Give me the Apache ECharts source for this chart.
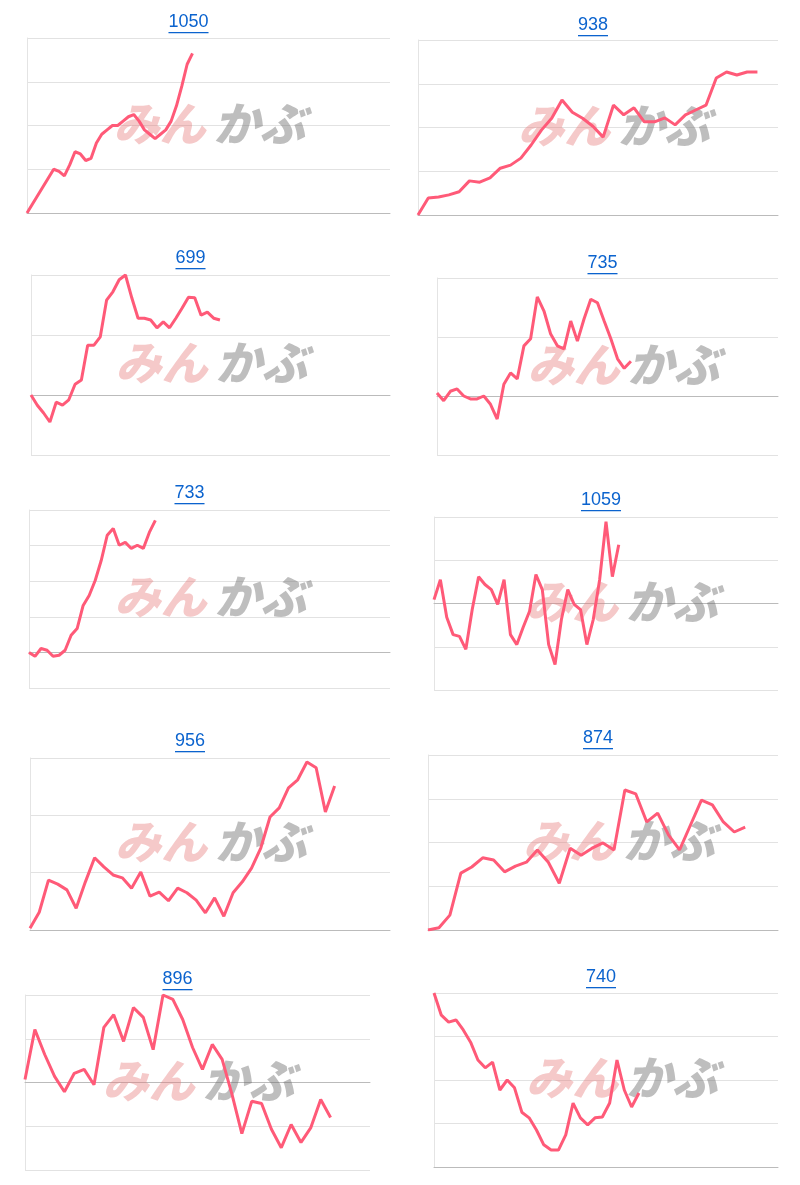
<!DOCTYPE html>
<html style="height: 100%">
<head>
<meta charset="utf-8">
<script src="https://cdn.jsdelivr.net/npm/echarts@6/dist/echarts.min.js"></script>
</head>
<body style="height: 100%; margin: 0; background: #fff">
<div id="container" style="width: 800px; height: 1185px"></div>
<script type="text/javascript">
var titles = ['1050', '938', '699', '735', '733', '1059', '956', '874', '896', '740'];
var xCounts = [69, 36, 58, 52, 61, 55, 40, 33, 36, 48];
var yRanges = [[0, 4], [0, 4], [-1, 2], [-1, 2], [-1, 4], [-2, 2], [0, 3], [0, 4], [-2, 2], [0, 4]];
var s1 = [0,0.2,0.4,0.6,0.8,1.0,0.95,0.85,1.1,1.4,1.35,1.2,1.25,1.6,1.8,1.9,2.0,2.0,2.1,2.2,2.25,2.1,1.9,1.8,1.7,1.8,1.9,2.1,2.45,2.9,3.4,3.65];
var s2 = [0,0.39,0.41,0.46,0.53,0.78,0.75,0.85,1.07,1.14,1.3,1.6,1.94,2.21,2.63,2.35,2.21,2.03,1.78,2.51,2.29,2.45,2.13,2.13,2.22,2.06,2.29,2.4,2.51,3.13,3.27,3.2,3.27,3.27];
var s3 = [0,-0.17,-0.3,-0.45,-0.12,-0.17,-0.08,0.18,0.25,0.83,0.83,0.97,1.58,1.72,1.92,2.0,1.62,1.28,1.28,1.25,1.12,1.22,1.12,1.28,1.45,1.63,1.62,1.33,1.38,1.28,1.25];
var s4 = [0.05,-0.08,0.08,0.12,0,-0.05,-0.05,0,-0.14,-0.39,0.2,0.39,0.29,0.85,0.97,1.68,1.44,1.05,0.85,0.8,1.27,0.93,1.31,1.64,1.58,1.27,0.97,0.63,0.47,0.59];
var s5 = [0,-0.11,0.11,0.06,-0.11,-0.08,0.06,0.48,0.67,1.32,1.6,2.02,2.58,3.29,3.48,3.01,3.09,2.92,3.01,2.92,3.37,3.71];
var s6 = [0.09,0.55,-0.32,-0.72,-0.76,-1.06,-0.14,0.62,0.44,0.32,-0.02,0.55,-0.72,-0.95,-0.55,-0.18,0.67,0.32,-0.95,-1.41,-0.37,0.32,-0.02,-0.14,-0.95,-0.37,0.55,1.89,0.62,1.36];
var s7 = [0.03,0.31,0.87,0.8,0.7,0.38,0.84,1.26,1.1,0.96,0.91,0.73,1.01,0.59,0.66,0.51,0.73,0.65,0.52,0.3,0.56,0.24,0.65,0.84,1.08,1.43,1.97,2.13,2.48,2.62,2.93,2.83,2.06,2.51];
var s8 = [0,0.05,0.34,1.3,1.44,1.65,1.6,1.33,1.46,1.55,1.83,1.55,1.07,1.87,1.71,1.87,1.99,1.83,3.2,3.11,2.47,2.67,2.17,1.83,2.4,2.97,2.86,2.47,2.24,2.35];
var s9 = [0.07,1.21,0.64,0.14,-0.21,0.21,0.3,-0.05,1.26,1.55,0.94,1.71,1.49,0.75,2.0,1.9,1.44,0.8,0.3,0.87,0.53,-0.27,-1.17,-0.43,-0.48,-1.07,-1.49,-0.96,-1.37,-1.03,-0.39,-0.8];
var s10 = [4,3.49,3.33,3.38,3.15,2.87,2.46,2.28,2.41,1.77,2.0,1.82,1.26,1.13,0.85,0.51,0.39,0.39,0.74,1.47,1.13,0.97,1.13,1.15,1.47,2.46,1.77,1.38,1.7];
var seriesData = [s1, s2, s3, s4, s5, s6, s7, s8, s9, s10];

// panel boxes: [left, top, width, height, titleY]
var boxes = [
  [27, 38, 363, 175, 22], [418, 40, 360, 175, 25],
  [31, 275, 359, 180, 258], [437, 278, 341, 177, 263],
  [29, 510, 361, 178, 493], [434, 517, 344, 173, 500],
  [30, 758, 360, 172, 741], [428, 755, 350, 175, 738],
  [25, 995, 345, 175, 979], [434, 993, 344, 174, 977]
];

var dom = document.getElementById('container');
var myChart = echarts.init(dom);
var titleFont = '18px Arial, "Liberation Sans", sans-serif';
var ctx = document.createElement('canvas').getContext('2d');
ctx.font = titleFont;

var grids = [], xAxes = [], yAxes = [], series = [], graphics = [];
for (var i = 0; i < 10; i++) {
  var b = boxes[i];
  var cats = [];
  for (var k = 0; k < xCounts[i]; k++) cats.push(k);
  grids.push({left: b[0], top: b[1], width: b[2], height: b[3]});
  xAxes.push({
    type: 'category', gridIndex: i, data: cats, boundaryGap: false,
    axisLine: {onZero: true, lineStyle: {color: '#bbb'}},
    axisTick: {show: false}, axisLabel: {show: false}
  });
  yAxes.push({
    type: 'value', gridIndex: i, min: yRanges[i][0], max: yRanges[i][1], interval: 1,
    axisLabel: {show: false}, axisTick: {show: false},
    axisLine: {show: true, lineStyle: {color: '#e4e4e4'}},
    splitLine: {lineStyle: {color: '#e2e2e2'}}
  });
  series.push({
    type: 'line', xAxisIndex: i, yAxisIndex: i, data: seriesData[i],
    symbol: 'none', lineStyle: {color: '#ff5a78', width: 3}, z: 3
  });
  // watermark
  var cx = b[0] + b[2] / 2 - (i % 2 ? 0 : 15);
  var cy = b[1] + b[3] / 2;
  graphics.push({
    type: 'text', left: cx - 80, top: cy - 25, z: 1,
    style: {text: 'みん', font: 'italic 900 46px "Noto Sans CJK JP"', fill: 'rgba(230,120,120,0.4)'}
  });
  graphics.push({
    type: 'text', left: cx + 20, top: cy - 25, z: 1,
    style: {text: 'かぶ', font: 'italic 900 46px "Noto Sans CJK JP"', fill: 'rgba(110,110,110,0.45)'}
  });
  var tw = ctx.measureText(titles[i]).width;
  var tx = b[0] + b[2] / 2 - (i % 2 ? 5 : 20);
  graphics.push({
    type: 'text', x: tx, y: b[4], z: 5,
    style: {text: titles[i], font: titleFont, fill: '#0b63ce', align: 'center', verticalAlign: 'middle'}
  });
  graphics.push({
    type: 'rect', shape: {x: tx - tw / 2, y: b[4] + 10, width: tw, height: 1.3}, z: 5,
    style: {fill: '#0b63ce'}
  });
}

var option = {
  animation: false,
  grid: grids, xAxis: xAxes, yAxis: yAxes, series: series, graphic: graphics
};
myChart.setOption(option);
</script>
</body>
</html>
